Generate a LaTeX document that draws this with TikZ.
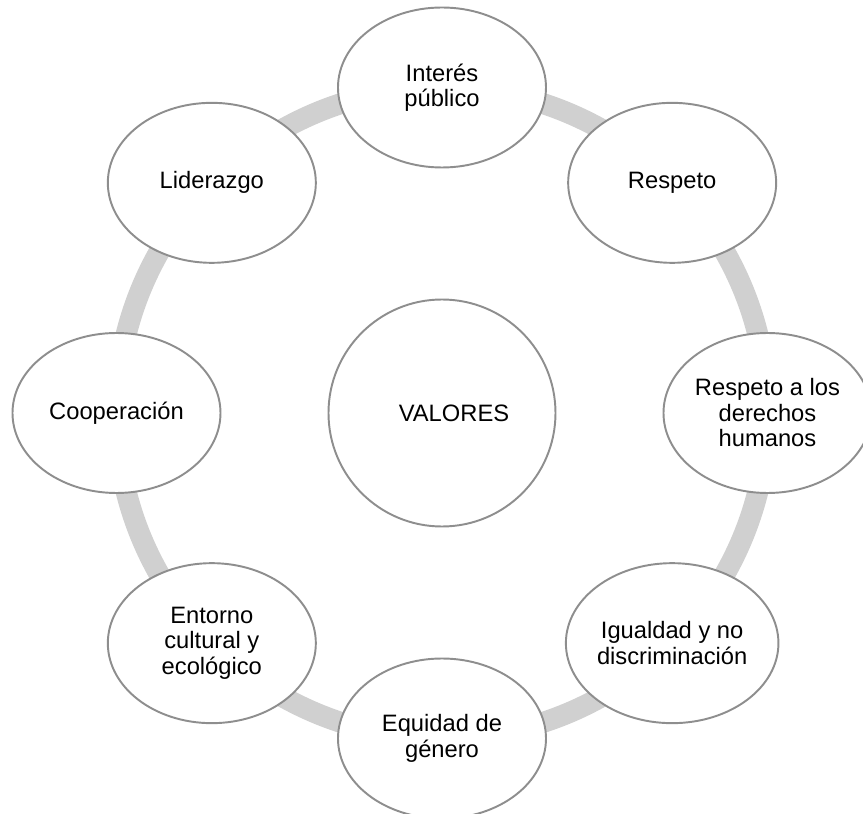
\documentclass[tikz,border=0pt]{standalone}
\usepackage{fontspec}
\setmainfont{Liberation Sans}
\usetikzlibrary{shapes.geometric,backgrounds}
\definecolor{ringgray}{RGB}{208,208,208}
\definecolor{rimgray}{RGB}{142,142,142}

\begin{document}
\begin{tikzpicture}[
  valor/.style={ellipse,draw=rimgray,line width=1.1pt,fill=white,
    minimum width=4.16cm,minimum height=3.2cm,inner sep=0pt,align=center,
    font=\fontsize{13.5}{14.5}\selectfont},
  ring/.style={draw=ringgray,line width=0.42cm}]
\useasboundingbox (-8.84,-8.02) rectangle (8.42,8.26);
\node[valor,circle,minimum size=4.54cm] (val) at (0,0) {\hspace*{0.48cm}VALORES};
\node[valor] (v1) at (90:6.51) {Interés\\público};
\node[valor] (v2) at (45:6.51) {Respeto};
\node[valor] (v3) at (0:6.51) {Respeto a los\\derechos\\humanos};
\node[valor] (v4) at (-45:6.51) {Igualdad y no\\discriminación};
\node[valor] (v5) at (-90:6.51) {Equidad de\\género};
\node[valor] (v6) at (-135:6.51) {Entorno\\cultural y\\ecológico};
\node[valor] (v7) at (180:6.51) {Cooperación};
\node[valor] (v8) at (135:6.51) {Liderazgo};
\begin{scope}[on background layer]
\foreach \i [evaluate=\i as \ang using 135-45*\i] in {1,...,8}
  \draw[ring] (v\i.center) arc[start angle=\ang,delta angle=-45,radius=6.51cm];
\end{scope}
\end{tikzpicture}
\end{document}
